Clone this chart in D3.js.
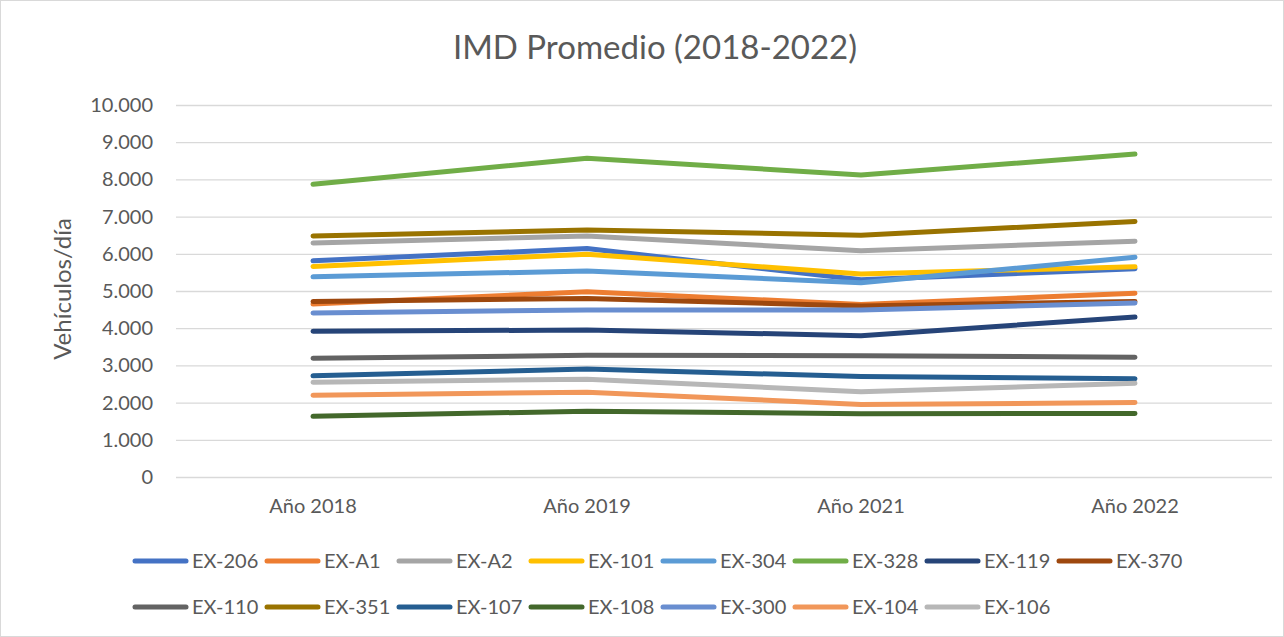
<!DOCTYPE html>
<html>
<head>
<meta charset="utf-8">
<script src="https://cdn.jsdelivr.net/npm/d3@7"></script>
<style>
    body { margin: 0; background: #fff; }
    text { font-family: Lato, "Open Sans", sans-serif; fill: #595959; }
</style>
</head>
<body>
<div id="chart"></div>
<script>

// categories (x axis)
var years = ["Año 2018", "Año 2019", "Año 2021", "Año 2022"];

// y ticks
var yTicks = [0, 1000, 2000, 3000, 4000, 5000, 6000, 7000, 8000, 9000, 10000];

// series, in legend / draw order
var seriesNames = ["EX-206", "EX-A1", "EX-A2", "EX-101", "EX-304", "EX-328", "EX-119", "EX-370",
                   "EX-110", "EX-351", "EX-107", "EX-108", "EX-300", "EX-104", "EX-106"];

var ex206 = [5810, 6140, 5300, 5600];
var exA1  = [4650, 4980, 4640, 4940];
var exA2  = [6290, 6480, 6080, 6340];
var ex101 = [5660, 5990, 5460, 5650];
var ex304 = [5380, 5540, 5220, 5910];
var ex328 = [7870, 8570, 8120, 8680];
var ex119 = [3920, 3950, 3800, 4300];
var ex370 = [4720, 4800, 4600, 4720];
var ex110 = [3190, 3270, 3260, 3220];
var ex351 = [6480, 6640, 6500, 6870];
var ex107 = [2720, 2900, 2700, 2640];
var ex108 = [1630, 1770, 1700, 1710];
var ex300 = [4410, 4490, 4490, 4680];
var ex104 = [2200, 2280, 1950, 2000];
var ex106 = [2545, 2630, 2290, 2520];

var seriesValues = [ex206, exA1, exA2, ex101, ex304, ex328, ex119, ex370,
                    ex110, ex351, ex107, ex108, ex300, ex104, ex106];

var colours = ["#4472C4", "#ED7D31", "#A5A5A5", "#FFC000", "#5B9BD5", "#70AD47", "#264478", "#9E480E",
               "#636363", "#997300", "#255E91", "#43682B", "#698ED0", "#F1975A", "#B7B7B7"];

var svgWidth = 1284, svgHeight = 637;
var margin = {top: 105, right: 12, bottom: 160, left: 176};
var width = svgWidth - margin.left - margin.right;
var height = svgHeight - margin.top - margin.bottom;

var esLocale = d3.formatLocale({decimal: ",", thousands: ".", grouping: [3], currency: ["", " €"]});
var fmt = esLocale.format(",d");

var svg = d3.select("#chart").append("svg")
    .attr("width", svgWidth).attr("height", svgHeight);

// chart border
svg.append("rect")
    .attr("x", 0.5).attr("y", 0.5)
    .attr("width", svgWidth - 1).attr("height", svgHeight - 1)
    .attr("fill", "none").attr("stroke", "#D9D9D9");

var g = svg.append("g")
    .attr("transform", "translate(" + margin.left + " " + margin.top + ")");

// scales
var x = d3.scaleBand().domain(years).range([0, width]);
var y = d3.scaleLinear().domain([0, 10000]).range([height, 0]);

// y axis with gridlines
var yAxis = g.append("g")
    .attr("class", "y axis")
    .call(d3.axisLeft(y).tickValues(yTicks).tickFormat(fmt).tickSize(-width).tickPadding(23));
yAxis.select(".domain").remove();
yAxis.selectAll("line").attr("stroke", "#D9D9D9").attr("stroke-width", 1.3);
yAxis.selectAll("text")
    .attr("font-size", "20px")
    .style("font-family", "Lato, sans-serif")
    .attr("fill", "#595959");

// x axis
var xAxis = g.append("g")
    .attr("class", "x axis")
    .attr("transform", "translate(0 " + height + ")")
    .call(d3.axisBottom(x).tickSize(0).tickPadding(22));
xAxis.select(".domain").remove();
xAxis.selectAll("text")
    .attr("font-size", "20px")
    .style("font-family", "Lato, sans-serif")
    .attr("fill", "#595959");

// title
svg.append("text")
    .attr("x", 655).attr("y", 59)
    .attr("text-anchor", "middle")
    .attr("font-size", "33px")
    .text("IMD Promedio (2018-2022)");

// y axis name
svg.append("text")
    .attr("transform", "translate(71 " + (margin.top + height / 2 - 2) + ") rotate(-90)")
    .attr("text-anchor", "middle")
    .attr("font-size", "24px")
    .text("Vehículos/día");

// lines
var line = d3.line()
    .x(function(d, i) { return x(years[i]) + x.bandwidth() / 2; })
    .y(function(d) { return y(d); });

g.append("g").selectAll("path")
    .data(seriesValues)
    .enter().append("path")
        .attr("d", function(d) { return line(d); })
        .attr("fill", "none")
        .attr("stroke", function(d, i) { return colours[i]; })
        .attr("stroke-width", 5)
        .attr("stroke-linecap", "round")
        .attr("stroke-linejoin", "round");

// legend: 8 columns, 2 rows
var legend = svg.append("g").attr("class", "legend");
var legendBox = legend.selectAll("g")
    .data(seriesNames).enter()
    .append("g")
        .attr("transform", function(d, i) {
            var col = i % 8, row = Math.floor(i / 8);
            return "translate(" + (133 + col * 132) + " " + (561 + row * 46) + ")";
        });
legendBox.append("line")
    .attr("x1", 2).attr("x2", 53)
    .attr("stroke", function(d, i) { return colours[i]; })
    .attr("stroke-width", 5)
    .attr("stroke-linecap", "round");
legendBox.append("text")
    .attr("x", 59).attr("y", 7)
    .attr("font-size", "20px")
    .text(function(d) { return d; });

</script>
</body>
</html>
